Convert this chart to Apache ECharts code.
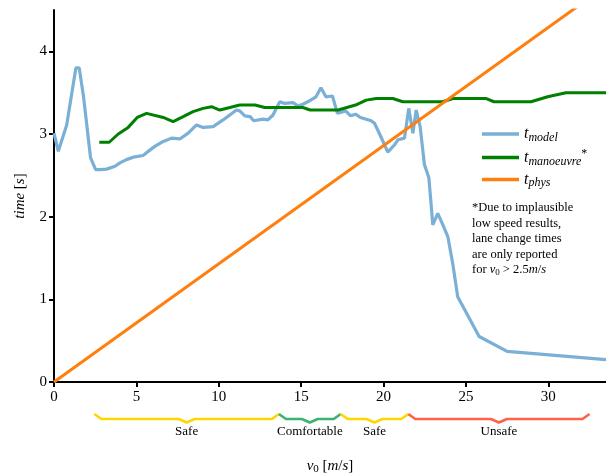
<!DOCTYPE html>
<html>
<head>
<meta charset="utf-8">
<script src="https://cdn.jsdelivr.net/npm/echarts@6/dist/echarts.min.js"></script>
<style>
  html, body { margin: 0; padding: 0; background: #fff; }
  #chart { width: 606px; height: 474px; }
</style>
</head>
<body>
<div id="chart"></div>
<script>
// t_model (blue)
const modelV = [0, 0.26, 0.77, 1.33, 1.53, 1.78, 2.22, 2.53, 2.79, 3.19, 3.70, 4.0, 4.4, 4.81, 5.41, 5.72, 6.12, 6.53, 7.13, 7.64, 8.14, 8.65, 9.05, 9.66, 10.26, 10.77, 11.07, 11.27, 11.58, 11.9, 12.12, 12.69, 12.98, 13.29, 13.7, 14.0, 14.5, 14.8, 15.1, 15.4, 15.9, 16.2, 16.5, 16.9, 17.2, 17.7, 18.0, 18.3, 18.6, 19.25, 19.45, 19.76, 20.26, 20.67, 20.87, 21.27, 21.53, 21.78, 21.98, 22.22, 22.48, 22.75, 22.99, 23.29, 23.6, 23.9, 24.2, 24.5, 25.8, 27.5, 33.5];
const modelT = [3.01, 2.79, 3.11, 3.80, 3.80, 3.47, 2.71, 2.57, 2.57, 2.575, 2.61, 2.65, 2.69, 2.72, 2.74, 2.79, 2.85, 2.90, 2.95, 2.94, 3.01, 3.11, 3.08, 3.09, 3.17, 3.245, 3.29, 3.28, 3.22, 3.21, 3.16, 3.18, 3.17, 3.23, 3.39, 3.37, 3.38, 3.34, 3.36, 3.39, 3.45, 3.56, 3.45, 3.46, 3.25, 3.28, 3.22, 3.24, 3.20, 3.16, 3.13, 3.0, 2.78, 2.87, 2.93, 2.95, 3.31, 3.01, 3.29, 3.09, 2.63, 2.47, 1.90, 2.04, 1.90, 1.76, 1.43, 1.03, 0.55, 0.37, 0.27];

// t_manoeuvre (green)
const manV = [2.75, 3.35, 3.9, 4.5, 5.05, 5.62, 6.63, 7.23, 7.84, 8.44, 9.05, 9.56, 10.06, 10.67, 11.27, 12.2, 12.79, 15.1, 15.55, 17.25, 18.3, 18.95, 19.56, 20.56, 21.17, 23.6, 24.2, 26.2, 26.7, 28.95, 29.96, 31.07, 33.5];
const manT = [2.90, 2.90, 3.0, 3.08, 3.20, 3.25, 3.20, 3.15, 3.21, 3.27, 3.31, 3.33, 3.29, 3.32, 3.35, 3.35, 3.32, 3.32, 3.29, 3.29, 3.35, 3.41, 3.43, 3.43, 3.39, 3.39, 3.43, 3.43, 3.39, 3.39, 3.45, 3.50, 3.50];

// t_phys (orange)
const physV = [0, 33.5];
const physT = [0, 4.79];

// comfort ranges under the x axis
const rangeStart = [2.45, 13.65, 17.4, 21.5];
const rangeEnd = [13.65, 17.4, 21.5, 32.5];
const rangeLabel = ['Safe', 'Comfortable', 'Safe', 'Unsafe'];
const rangeColor = ['#FFD700', '#3CB371', '#FFD700', '#FF6347'];

const xTicks = [0, 5, 10, 15, 20, 25, 30];
const yTicks = [0, 1, 2, 3, 4];

const serif = '"Liberation Serif", "DejaVu Serif", serif';

const zip = (a, b) => a.map((v, i) => [v, b[i]]);

const chart = echarts.init(document.getElementById('chart'));

const axisCommon = {
    axisLine: { show: true, onZero: false, lineStyle: { color: '#000', width: 2 } },
    axisTick: { show: true, length: 5, lineStyle: { color: '#000', width: 2 } },
    splitLine: { show: false },
    axisLabel: { color: '#000', fontFamily: serif, fontSize: 15 }
};

const option = {
    animation: false,
    backgroundColor: '#fff',
    grid: { left: 54, right: 0, top: 10, bottom: 92, outerBoundsMode: 'none', containLabel: false },
    xAxis: {
        ...axisCommon,
        type: 'value',
        min: 0,
        max: 33.5,
        interval: 5,
        axisTick: { ...axisCommon.axisTick, customValues: xTicks },
        axisLabel: { ...axisCommon.axisLabel, margin: 8, customValues: xTicks },
        name: '{i|v}{sub|0} [{i|m}/{i|s}]',
        nameLocation: 'middle',
        nameGap: 76,
        nameTextStyle: {
            fontFamily: serif, fontSize: 15, color: '#000',
            rich: {
                i: { fontFamily: serif, fontSize: 15, fontStyle: 'italic' },
                sub: { fontFamily: serif, fontSize: 11, verticalAlign: 'bottom', padding: [6, 0, 0, 0] }
            }
        }
    },
    yAxis: {
        ...axisCommon,
        type: 'value',
        min: 0,
        max: 4.5,
        interval: 1,
        axisTick: { ...axisCommon.axisTick, customValues: yTicks },
        axisLabel: { ...axisCommon.axisLabel, margin: 7, customValues: yTicks },
        name: '{i|time} [{i|s}]',
        nameLocation: 'middle',
        nameGap: 26,
        nameTextStyle: {
            fontFamily: serif, fontSize: 15, color: '#000',
            rich: {
                i: { fontFamily: serif, fontSize: 15, fontStyle: 'italic' }
            }
        }
    },
    legend: {
        orient: 'vertical',
        left: 477,
        top: 121,
        icon: 'rect',
        itemWidth: 37,
        itemHeight: 3.5,
        itemGap: 4,
        data: ['model', 'manoeuvre', 'phys'],
        formatter: (name) => name === 'manoeuvre'
            ? '{t|t}{s|manoeuvre}{p|*}'
            : '{t|t}{s|' + name + '}',
        textStyle: {
            color: '#000',
            fontFamily: serif,
            rich: {
                t: { fontFamily: serif, fontSize: 16, fontStyle: 'italic', color: '#000' },
                s: { fontFamily: serif, fontSize: 12, fontStyle: 'italic', color: '#000', verticalAlign: 'bottom', padding: [7, 0, 0, 0] },
                p: { fontFamily: serif, fontSize: 12, color: '#000', verticalAlign: 'top', padding: [0, 0, 8, 0] }
            }
        }
    },
    graphic: [{
        type: 'text',
        left: 472,
        top: 200,
        style: {
            text: '*Due to implausible\nlow speed results,\nlane change times\nare only reported\nfor {i|v}{sub|0} > 2.5{i|m}/{i|s}',
            fontFamily: serif,
            fontSize: 12.5,
            lineHeight: 15.5,
            fill: '#000',
            rich: {
                i: { fontFamily: serif, fontSize: 12.5, fontStyle: 'italic', lineHeight: 15.5 },
                sub: { fontFamily: serif, fontSize: 9, verticalAlign: 'bottom', lineHeight: 15.5 }
            }
        }
    }],
    series: [
        {
            name: 'model',
            type: 'line',
            data: zip(modelV, modelT),
            showSymbol: false,
            symbol: 'none',
            lineStyle: { color: '#7aafd6', width: 3.2 },
            itemStyle: { color: '#7aafd6' },
            z: 2
        },
        {
            name: 'manoeuvre',
            type: 'line',
            data: zip(manV, manT),
            showSymbol: false,
            symbol: 'none',
            lineStyle: { color: '#008000', width: 3 },
            itemStyle: { color: '#008000' },
            z: 3
        },
        {
            name: 'phys',
            type: 'line',
            data: zip(physV, physT),
            showSymbol: false,
            symbol: 'none',
            lineStyle: { color: '#ff7f0e', width: 3 },
            itemStyle: { color: '#ff7f0e' },
            z: 4
        },
        {
            // curly braces marking comfort ranges under the axis
            type: 'custom',
            clip: false,
            silent: true,
            data: rangeStart.map((s, i) => [s, rangeEnd[i], i]),
            renderItem: (params, api) => {
                const i = api.value(2);
                const p0 = api.coord([api.value(0), 0]);
                const p1 = api.coord([api.value(1), 0]);
                const y0 = p0[1];
                const xa = p0[0], xb = p1[0], xm = (xa + xb) / 2;
                const tip = y0 + 32, flat = y0 + 37, dip = y0 + 40.5;
                return {
                    type: 'group',
                    children: [{
                        type: 'polyline',
                        shape: {
                            points: [
                                [xa, tip], [xa + 7, flat], [xm - 8, flat], [xm, dip],
                                [xm + 8, flat], [xb - 7, flat], [xb, tip]
                            ]
                        },
                        style: { stroke: rangeColor[i], lineWidth: 2.6, fill: null, lineJoin: 'round' }
                    }, {
                        type: 'text',
                        x: xm,
                        y: y0 + 50,
                        style: {
                            text: rangeLabel[i],
                            fontFamily: serif,
                            fontSize: 13,
                            fill: '#000',
                            align: 'center',
                            verticalAlign: 'middle'
                        }
                    }]
                };
            }
        }
    ]
};

chart.setOption(option);
</script>
</body>
</html>
